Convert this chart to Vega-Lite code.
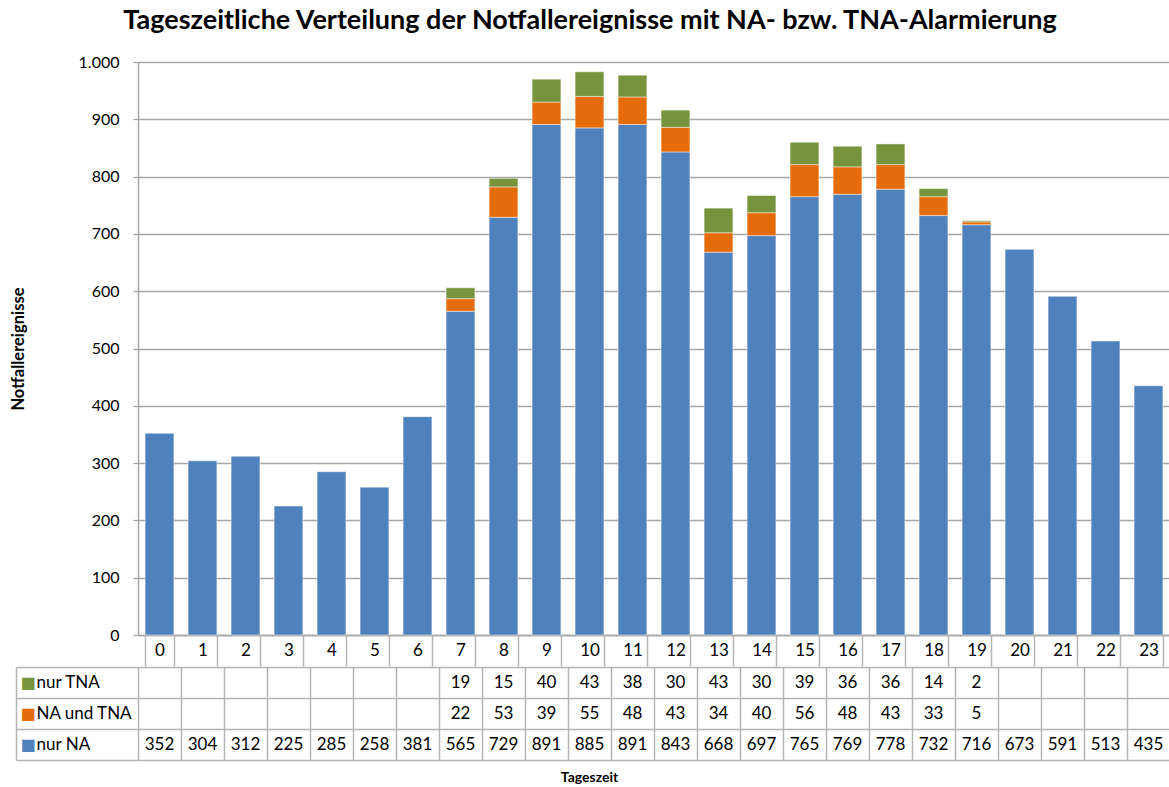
{
  "$schema": "https://vega.github.io/schema/vega-lite/v6.json",
  "padding": {"left": 10, "top": 7, "right": 0, "bottom": 0},
  "background": "white",
  "title": {"text": "Tageszeitliche Verteilung der Notfallereignisse mit NA- bzw. TNA-Alarmierung", "font": "Lato", "fontSize": 27, "fontWeight": "bold", "color": "black", "anchor": "middle", "offset": 19},
  "config": {"view": {"stroke": null}, "font": "Lato"},
  "datasets": {
    "d": [
      {"h": 0, "s": "nur NA", "v": 352}, {"h": 1, "s": "nur NA", "v": 304}, {"h": 2, "s": "nur NA", "v": 312},
      {"h": 3, "s": "nur NA", "v": 225}, {"h": 4, "s": "nur NA", "v": 285}, {"h": 5, "s": "nur NA", "v": 258},
      {"h": 6, "s": "nur NA", "v": 381}, {"h": 7, "s": "nur NA", "v": 565}, {"h": 8, "s": "nur NA", "v": 729},
      {"h": 9, "s": "nur NA", "v": 891}, {"h": 10, "s": "nur NA", "v": 885}, {"h": 11, "s": "nur NA", "v": 891},
      {"h": 12, "s": "nur NA", "v": 843}, {"h": 13, "s": "nur NA", "v": 668}, {"h": 14, "s": "nur NA", "v": 697},
      {"h": 15, "s": "nur NA", "v": 765}, {"h": 16, "s": "nur NA", "v": 769}, {"h": 17, "s": "nur NA", "v": 778},
      {"h": 18, "s": "nur NA", "v": 732}, {"h": 19, "s": "nur NA", "v": 716}, {"h": 20, "s": "nur NA", "v": 673},
      {"h": 21, "s": "nur NA", "v": 591}, {"h": 22, "s": "nur NA", "v": 513}, {"h": 23, "s": "nur NA", "v": 435},
      {"h": 7, "s": "NA und TNA", "v": 22}, {"h": 8, "s": "NA und TNA", "v": 53}, {"h": 9, "s": "NA und TNA", "v": 39},
      {"h": 10, "s": "NA und TNA", "v": 55}, {"h": 11, "s": "NA und TNA", "v": 48}, {"h": 12, "s": "NA und TNA", "v": 43},
      {"h": 13, "s": "NA und TNA", "v": 34}, {"h": 14, "s": "NA und TNA", "v": 40}, {"h": 15, "s": "NA und TNA", "v": 56},
      {"h": 16, "s": "NA und TNA", "v": 48}, {"h": 17, "s": "NA und TNA", "v": 43}, {"h": 18, "s": "NA und TNA", "v": 33},
      {"h": 19, "s": "NA und TNA", "v": 5},
      {"h": 7, "s": "nur TNA", "v": 19}, {"h": 8, "s": "nur TNA", "v": 15}, {"h": 9, "s": "nur TNA", "v": 40},
      {"h": 10, "s": "nur TNA", "v": 43}, {"h": 11, "s": "nur TNA", "v": 38}, {"h": 12, "s": "nur TNA", "v": 30},
      {"h": 13, "s": "nur TNA", "v": 43}, {"h": 14, "s": "nur TNA", "v": 30}, {"h": 15, "s": "nur TNA", "v": 39},
      {"h": 16, "s": "nur TNA", "v": 36}, {"h": 17, "s": "nur TNA", "v": 36}, {"h": 18, "s": "nur TNA", "v": 14},
      {"h": 19, "s": "nur TNA", "v": 2}
    ]
  },
  "spacing": -9,
  "resolve": {"scale": {"x": "independent", "y": "independent"}},
  "vconcat": [
    {
      "width": 1032,
      "height": 573,
      "data": {"name": "d"},
      "transform": [{"calculate": "indexof(['nur NA', 'NA und TNA', 'nur TNA'], datum.s)", "as": "stackOrder"}],
      "mark": {"type": "bar", "stroke": "#ffffff", "strokeOpacity": 0.45, "strokeWidth": 1},
      "encoding": {
        "x": {"field": "h", "type": "ordinal",
          "scale": {"paddingInner": 0.33, "paddingOuter": 0.165},
          "axis": {"title": null, "labelAngle": 0, "tickBand": "extent", "tickSize": 31, "tickColor": "#b4b4b4", "tickWidth": 1.5,
                   "domainColor": "#a6a6a6", "domainWidth": 1.5, "labelBaseline": "middle", "labelPadding": -16,
                   "labelFontSize": 17, "labelColor": "black", "labelFont": "Lato"}},
        "y": {"field": "v", "type": "quantitative", "stack": "zero",
          "scale": {"domain": [0, 1000], "nice": false},
          "axis": {"values": [0, 100, 200, 300, 400, 500, 600, 700, 800, 900, 1000], "format": ",d",
                   "labelExpr": "replace(datum.label, ',', '.')",
                   "grid": true, "gridColor": "#a6a6a6", "gridWidth": 1.3,
                   "domainColor": "#a6a6a6", "domainWidth": 1.5, "tickColor": "#a6a6a6", "tickSize": 5, "tickWidth": 1.3,
                   "labelFontSize": 16, "labelColor": "black", "labelPadding": 14, "labelFont": "Lato",
                   "title": "Notfallereignisse", "titleFont": "Lato", "titleFontSize": 16.5, "titleFontWeight": "bold",
                   "titleColor": "black", "titlePadding": 52}},
        "color": {"field": "s", "type": "nominal",
          "scale": {"domain": ["nur NA", "NA und TNA", "nur TNA"], "range": ["#4F81BD", "#E46C0A", "#77933C"]},
          "legend": null},
        "order": {"field": "stackOrder", "type": "quantitative", "sort": "ascending"}
      }
    },
    {
      "width": 1032,
      "height": 93,
      "data": {"name": "d"},
      "resolve": {"axis": {"y": "independent"}},
      "layer": [
        {
          "mark": {"type": "text", "font": "Lato", "fontSize": 17, "color": "black"},
          "encoding": {
            "x": {"field": "h", "type": "ordinal",
              "scale": {"paddingInner": 0, "paddingOuter": 0},
              "axis": {"orient": "bottom", "title": "Tageszeit", "titleFont": "Lato", "titleFontSize": 14, "titleFontWeight": "bold",
                       "titleColor": "black", "titlePadding": 10, "titleX": 451, "titleAlign": "center", "titleAnchor": "start",
                       "labels": false, "ticks": false, "domain": false,
                       "grid": true, "tickBand": "extent", "gridColor": "#b4b4b4", "gridWidth": 1.5}},
            "y": {"field": "s", "type": "nominal", "sort": ["nur TNA", "NA und TNA", "nur NA"],
              "scale": {"paddingInner": 0, "paddingOuter": 0},
              "axis": {"orient": "left", "title": null, "grid": true, "tickBand": "extent", "gridColor": "#b4b4b4", "gridWidth": 1.5,
                       "domain": false, "ticks": true, "tickSize": 122, "tickColor": "#b4b4b4", "tickWidth": 1.5,
                       "labelAlign": "left", "labelPadding": -20, "labelFontSize": 17, "labelColor": "black", "labelFont": "Lato"}},
            "text": {"field": "v", "type": "quantitative"}
          }
        },
        {
          "mark": {"type": "text", "text": ""},
          "encoding": {
            "y": {"field": "s", "type": "nominal", "sort": ["nur TNA", "NA und TNA", "nur NA"],
              "axis": {"orient": "left", "offset": 122, "title": null, "grid": false, "ticks": false,
                       "domain": true, "domainColor": "#b4b4b4", "domainWidth": 1.5,
                       "labelExpr": "'■'", "labelFont": "DejaVu Sans", "labelFontSize": 16, "labelAlign": "left", "labelPadding": -4,
                       "labelColor": {"condition": [{"test": "datum.value === 'nur TNA'", "value": "#77933C"}, {"test": "datum.value === 'NA und TNA'", "value": "#E46C0A"}], "value": "#4F81BD"}}}
          }
        }
      ]
    }
  ]
}
